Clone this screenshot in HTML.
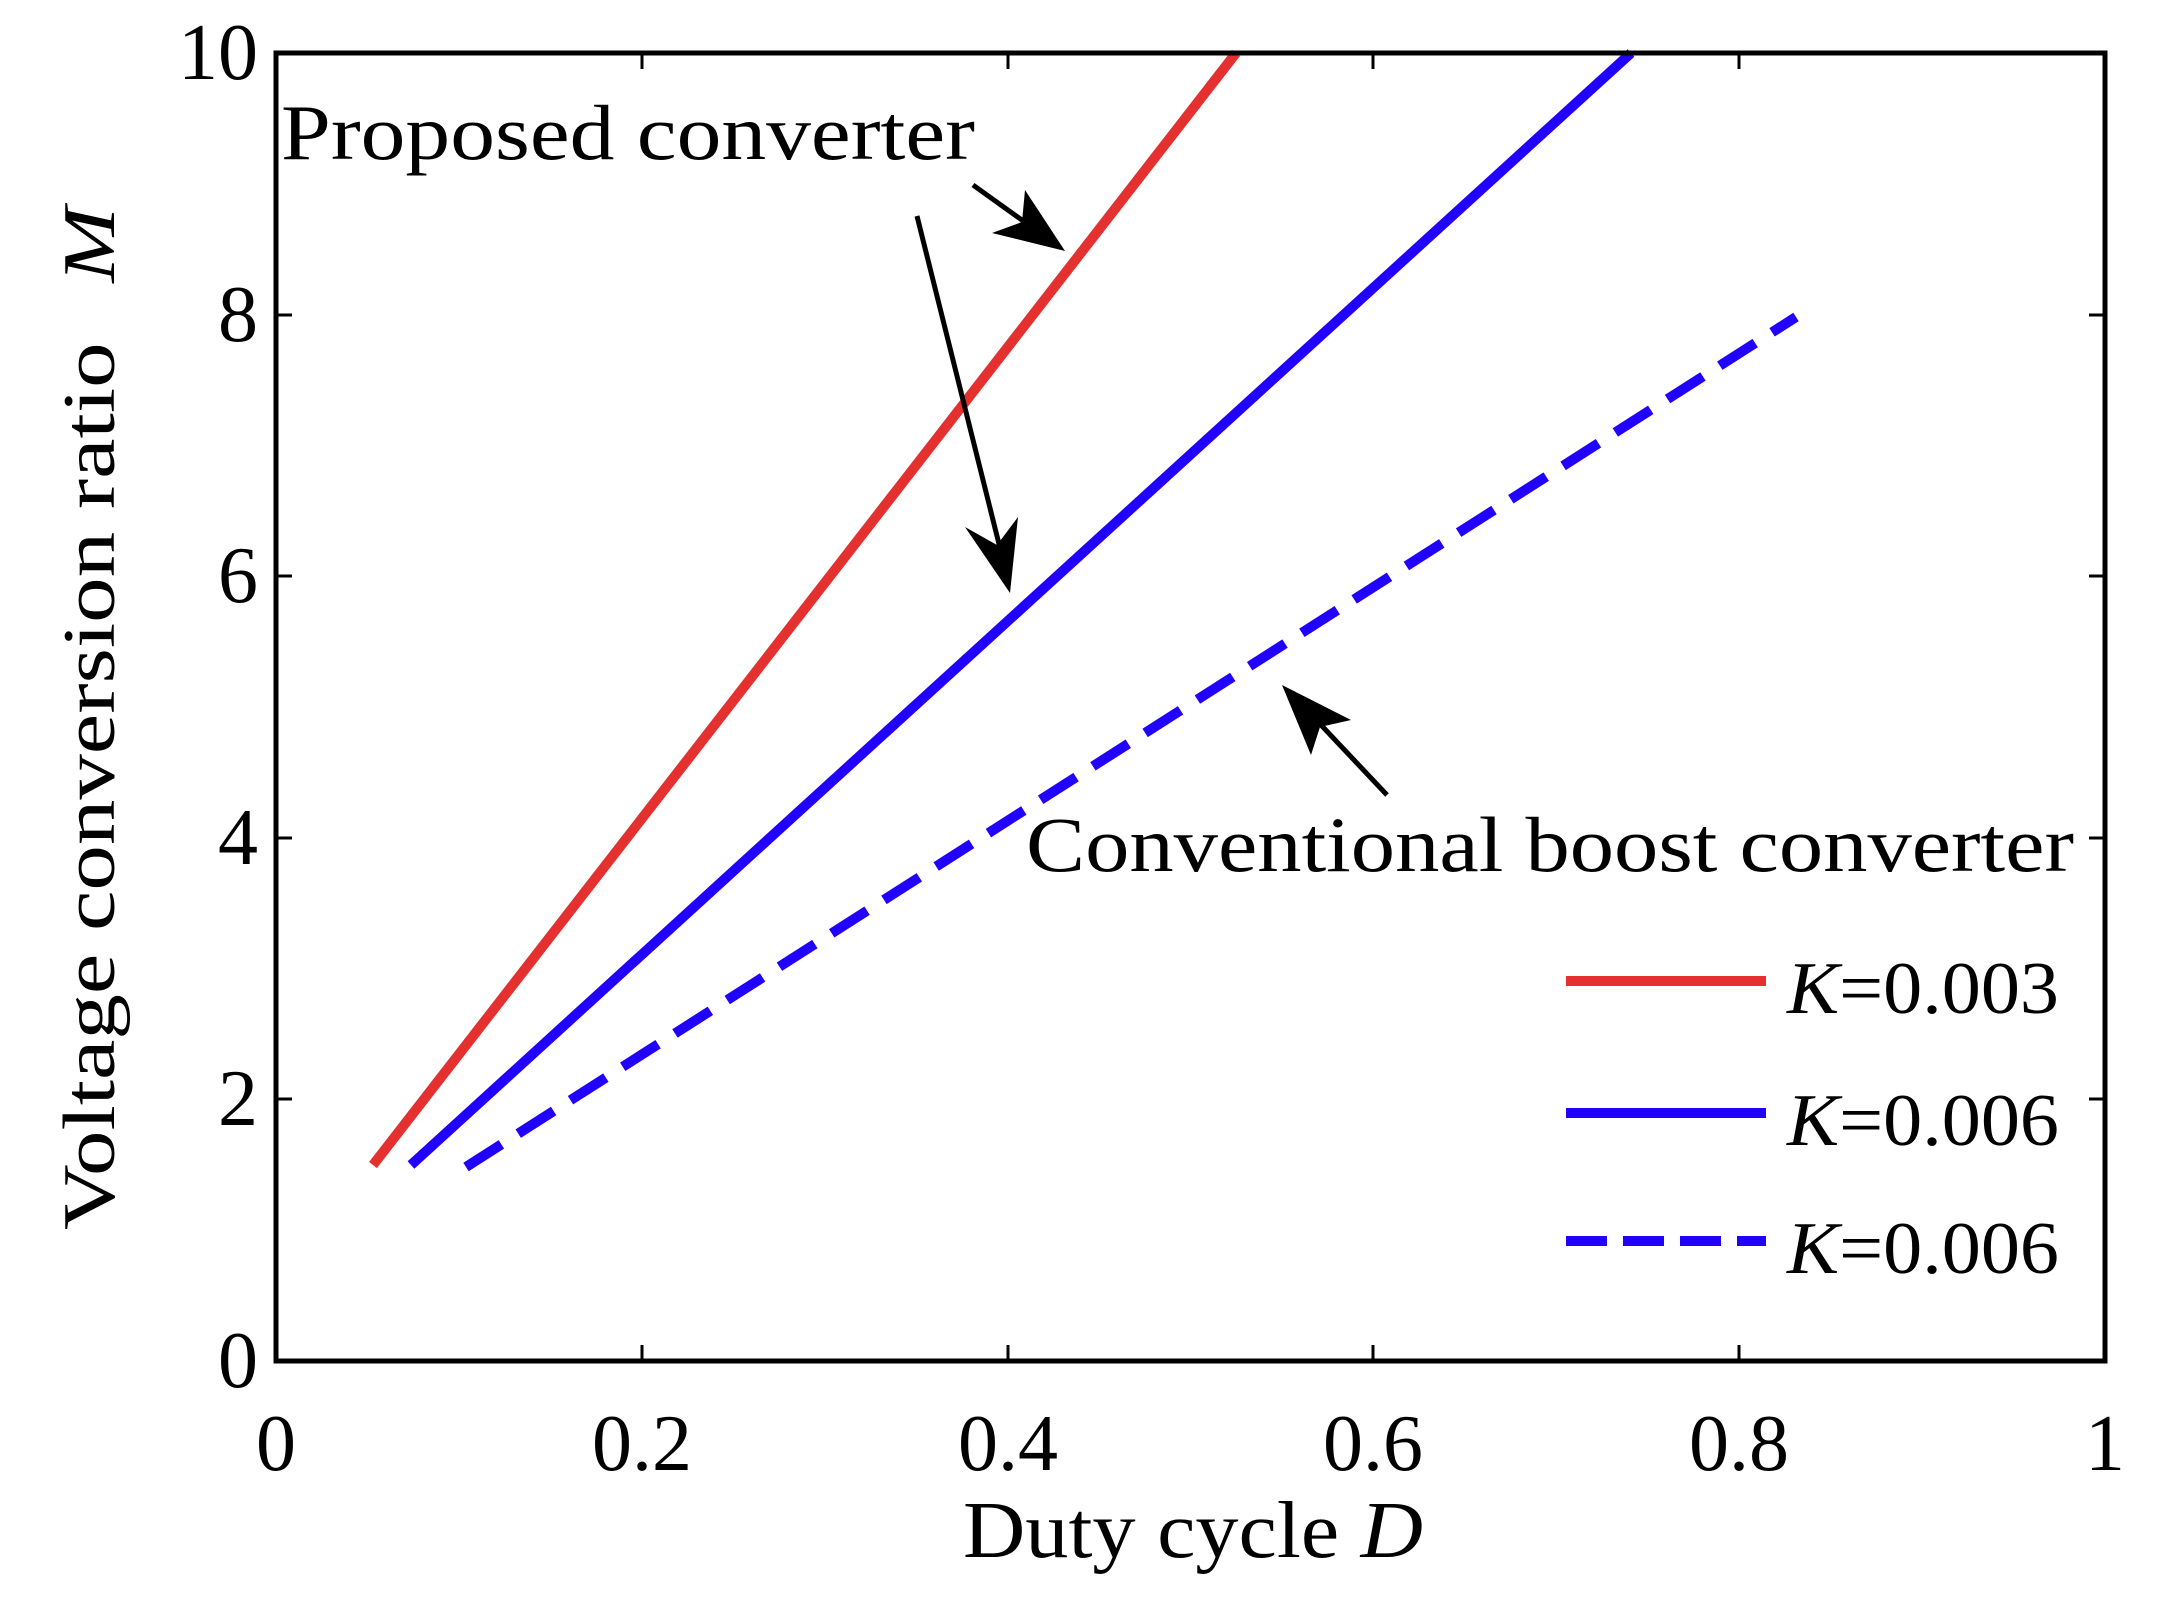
<!DOCTYPE html>
<html><head><meta charset="utf-8"><style>html,body{margin:0;padding:0;background:#fff}svg{display:block}</style></head>
<body>
<svg width="2160" height="1616" viewBox="0 0 2160 1616" xmlns="http://www.w3.org/2000/svg" font-family="'Liberation Serif',serif" fill="#000">
<!-- series -->
<polyline points="373,1165 1236,53" fill="none" stroke="#e53030" stroke-width="10"/>
<polyline points="411,1165 1631,53" fill="none" stroke="#2200ff" stroke-width="10"/>
<polyline points="466,1167 1796,317" fill="none" stroke="#2200ff" stroke-width="10" stroke-dasharray="42,20"/>
<!-- axes box -->
<rect x="276" y="53" width="1829" height="1308" fill="none" stroke="#000" stroke-width="5"/>
<g stroke="#000" stroke-width="3">
<line x1="642" y1="1361" x2="642" y2="1345"/><line x1="1008" y1="1361" x2="1008" y2="1345"/><line x1="1373" y1="1361" x2="1373" y2="1345"/><line x1="1739" y1="1361" x2="1739" y2="1345"/>
<line x1="642" y1="53" x2="642" y2="69"/><line x1="1008" y1="53" x2="1008" y2="69"/><line x1="1373" y1="53" x2="1373" y2="69"/><line x1="1739" y1="53" x2="1739" y2="69"/>
<line x1="276" y1="1099" x2="292" y2="1099"/><line x1="276" y1="838" x2="292" y2="838"/><line x1="276" y1="576" x2="292" y2="576"/><line x1="276" y1="315" x2="292" y2="315"/>
<line x1="2105" y1="1099" x2="2089" y2="1099"/><line x1="2105" y1="838" x2="2089" y2="838"/><line x1="2105" y1="576" x2="2089" y2="576"/><line x1="2105" y1="315" x2="2089" y2="315"/>
</g>
<!-- tick labels -->
<g font-size="80" text-anchor="end">
<text x="258" y="1387">0</text><text x="258" y="1125">2</text><text x="258" y="864">4</text><text x="258" y="602">6</text><text x="258" y="341">8</text><text x="258" y="79">10</text>
</g>
<g font-size="80" text-anchor="middle">
<text x="276" y="1470">0</text><text x="642" y="1470">0.2</text><text x="1008" y="1470">0.4</text><text x="1373" y="1470">0.6</text><text x="1739" y="1470">0.8</text><text x="2105" y="1470">1</text>
</g>
<!-- axis labels -->
<text x="963" y="1557" font-size="80" textLength="460" lengthAdjust="spacingAndGlyphs">Duty cycle <tspan font-style="italic">D</tspan></text>
<text transform="translate(114,1230) rotate(-90)" font-size="74" textLength="1023" lengthAdjust="spacingAndGlyphs">Voltage conversion ratio <tspan dx="30" font-style="italic">M</tspan></text>
<!-- annotations -->
<text x="281" y="159" font-size="78" textLength="694" lengthAdjust="spacingAndGlyphs">Proposed converter</text>
<text x="1026" y="871" font-size="78" textLength="1048" lengthAdjust="spacingAndGlyphs">Conventional boost converter</text>
<!-- arrows -->
<g stroke="#000" stroke-width="5" fill="none">
<line x1="973" y1="185" x2="1040" y2="233"/>
<line x1="917" y1="216" x2="1003" y2="560"/>
<line x1="1387" y1="795" x2="1305" y2="708"/>
</g>
<polygon points="1065,251 992,233 1022,222 1025,190" fill="#000"/>
<polygon points="1010,593 965,527 997,545 1018,517" fill="#000"/>
<polygon points="1282,685 1351,720 1320,727 1311,755" fill="#000"/>
<!-- legend -->
<line x1="1566" y1="981" x2="1766" y2="981" stroke="#e53030" stroke-width="10"/>
<line x1="1566" y1="1113" x2="1766" y2="1113" stroke="#2200ff" stroke-width="10"/>
<line x1="1566" y1="1241" x2="1766" y2="1241" stroke="#2200ff" stroke-width="10" stroke-dasharray="41,16"/>
<g font-size="74">
<text x="1787" y="1013" textLength="272" lengthAdjust="spacingAndGlyphs"><tspan font-style="italic">K</tspan>=0.003</text>
<text x="1787" y="1145" textLength="272" lengthAdjust="spacingAndGlyphs"><tspan font-style="italic">K</tspan>=0.006</text>
<text x="1787" y="1273" textLength="272" lengthAdjust="spacingAndGlyphs"><tspan font-style="italic">K</tspan>=0.006</text>
</g>
</svg>
</body></html>
